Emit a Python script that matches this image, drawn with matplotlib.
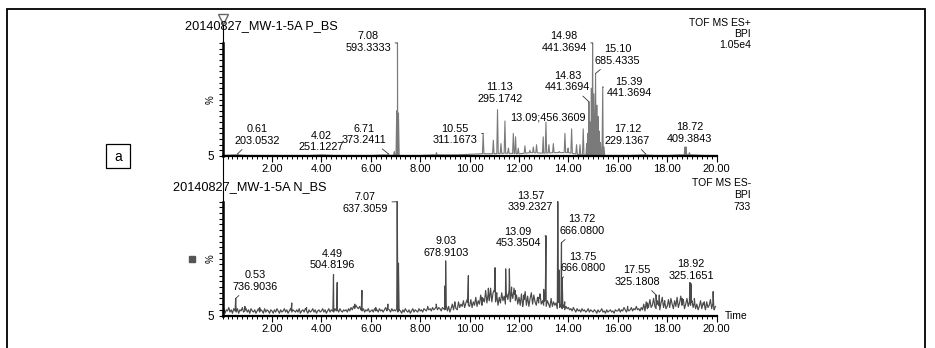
import numpy as np
import matplotlib
matplotlib.use("Agg")
from matplotlib import pyplot as plt
from matplotlib.patches import Rectangle
from matplotlib.lines import Line2D
from matplotlib.ticker import MultipleLocator, FixedLocator, FixedFormatter

plt.rcParams['font.family'] = ['Liberation Sans', 'DejaVu Sans']

# ---- data ----
titles = ['20140827_MW-1-5A P_BS', '20140827_MW-1-5A N_BS']
modes = [['TOF MS ES+', 'BPI', '1.05e4'], ['TOF MS ES-', 'BPI', '733']]
x_ticks = [2, 4, 6, 8, 10, 12, 14, 16, 18, 20]
y_tick_label = '5'

# positive mode: baseline every 0.5 min, then peaks (time, %)
top_base_t = list(np.arange(0, 20.01, 0.5))
top_base = [0.5, 1, 0.5, 0.5, 0.5, 0.5, 0.5, 0.5, 1, 0.5, 0.5, 0.5, 0.5, 1, 0.5, 0.5,
            0.5, 1, 1, 1, 1.5, 2, 2, 2.5, 2, 3, 2.5, 3, 3, 1, 0.5, 0.5, 0.5, 0.5,
            1, 0.5, 0.5, 1, 1, 0.5, 0.5]
top_pk_t = [0.61, 4.02, 6.71, 6.95, 7.05, 7.08, 7.12, 8.66, 10.55, 10.96, 11.13, 11.27,
            11.43, 11.57, 11.77, 11.86, 11.97, 12.24, 12.44, 12.58, 12.71, 12.98, 13.09,
            13.21, 13.39, 13.63, 13.86, 13.99, 14.13, 14.33, 14.47, 14.60, 14.74, 14.78,
            14.83, 14.88, 14.93, 14.98, 15.03, 15.10, 15.15, 15.20, 15.25, 15.30, 15.39,
            15.44, 17.12, 18.72, 18.76, 18.90]
top_pk_h = [2, 1, 2, 4, 40, 100, 38, 3, 20, 14, 41, 11,
            31, 7, 20, 17, 7, 9, 5, 8, 10, 17, 30,
            10, 11, 4, 20, 7, 24, 10, 10, 24, 11, 20,
            48, 30, 60, 100, 55, 73, 45, 35, 22, 12, 61,
            8, 2, 8, 8, 3]

# negative mode: noisy baseline every 0.05 min (one row per minute), then peaks (time, %)
bot_base = [3, 6, 2, 5, 4, 7, 3, 5, 2, 6, 4, 3, 6, 2, 5, 4, 7, 3, 4, 6,
            3, 5, 2, 6, 4, 3, 5, 2, 4, 6, 3, 5, 4, 2, 6, 3, 5, 4, 2, 5,
            4, 2, 5, 3, 6, 4, 2, 5, 3, 4, 6, 3, 5, 2, 4, 6, 3, 5, 4, 3,
            5, 3, 6, 2, 4, 5, 3, 6, 4, 2, 5, 3, 4, 6, 3, 5, 2, 4, 5, 3,
            4, 6, 3, 5, 2, 4, 6, 3, 5, 4, 3, 6, 4, 5, 3, 6, 4, 3, 5, 4,
            5, 3, 6, 4, 7, 5, 8, 6, 9, 7, 6, 8, 5, 4, 6, 3, 5, 4, 6, 3,
            4, 5, 3, 6, 4, 5, 3, 6, 4, 5, 3, 5, 7, 4, 6, 5, 3, 6, 4, 5,
            4, 6, 3, 5, 4, 2, 5, 3, 6, 4, 3, 5, 2, 4, 6, 3, 5, 4, 3, 6,
            4, 5, 3, 6, 5, 4, 7, 5, 6, 4, 7, 5, 6, 8, 5, 7, 6, 4, 7, 6,
            5, 9, 4, 8, 3, 6, 10, 5, 11, 6, 5, 12, 7, 10, 8, 13, 7, 11, 14, 9,
            8, 14, 7, 12, 9, 16, 8, 13, 10, 18, 9, 15, 12, 22, 11, 19, 13, 24, 12, 20,
            22, 12, 18, 9, 16, 11, 20, 13, 17, 10, 19, 14, 23, 12, 21, 15, 24, 13, 18, 10,
            16, 9, 19, 8, 14, 21, 9, 17, 8, 15, 20, 10, 18, 12, 9, 16, 11, 19, 10, 13,
            9, 16, 8, 13, 10, 7, 15, 8, 12, 9, 11, 6, 12, 7, 10, 6, 9, 5, 8, 6,
            7, 5, 6, 4, 7, 5, 3, 6, 4, 5, 3, 6, 4, 5, 3, 4, 6, 3, 5, 4,
            3, 5, 4, 2, 5, 3, 4, 6, 3, 4, 2, 5, 3, 4, 5, 3, 4, 2, 5, 4,
            4, 6, 3, 5, 4, 7, 5, 3, 6, 4, 5, 7, 4, 6, 5, 8, 5, 6, 4, 7,
            5, 10, 4, 12, 6, 8, 14, 7, 9, 15, 8, 6, 13, 9, 5, 11, 16, 7, 12, 6,
            8, 14, 7, 15, 10, 6, 13, 8, 16, 7, 11, 17, 9, 14, 6, 10, 15, 8, 12, 9,
            13, 7, 12, 6, 10, 5, 8, 13, 6, 11, 9, 5, 12, 7, 9, 14, 6, 11, 5, 8]
bot_base_t = list(np.arange(len(bot_base)) * 0.05)
bot_pk_t = [0.53, 0.9, 1.5, 2.8, 3.4, 4.49, 4.64, 5.35, 5.64, 6.2, 6.69, 7.07, 7.12,
            8.3, 8.65, 9.0, 9.03, 9.4, 9.95, 10.5, 10.76, 11.03, 11.1, 11.46, 11.61,
            11.7, 11.85, 12.2, 12.5, 12.8, 13.0, 13.09, 13.3, 13.57, 13.62, 13.72,
            13.75, 13.85, 16.4, 17.2, 17.55, 17.68, 17.9, 18.3, 18.6, 18.92, 18.96,
            19.1, 19.5, 19.86]
bot_pk_h = [15, 8, 7, 11, 7, 36, 29, 10, 22, 7, 10, 100, 46,
            8, 10, 26, 48, 12, 35, 16, 24, 42, 20, 41, 41,
            25, 22, 18, 17, 16, 23, 70, 14, 100, 40, 64,
            33, 12, 8, 11, 18, 18, 13, 13, 15, 29, 28,
            15, 12, 21]

# peak labels
top_lab_t = [0.61, 4.02, 6.71, 7.08, 10.55, 11.13, 13.09, 14.83, 14.98, 15.10, 15.39, 17.12, 18.72]
top_lab_txt = ['0.61\n203.0532', '4.02\n251.1227', '6.71\n373.2411', '7.08\n593.3333',
               '10.55\n311.1673', '11.13\n295.1742', '13.09;456.3609', '14.83\n441.3694',
               '14.98\n441.3694', '15.10\n685.4335', '15.39\n441.3694', '17.12\n229.1367',
               '18.72\n409.3843']
bot_lab_t = [0.53, 4.49, 7.07, 9.03, 13.09, 13.57, 13.72, 13.75, 17.55, 18.92]
bot_lab_txt = ['0.53\n736.9036', '4.49\n504.8196', '7.07\n637.3059', '9.03\n678.9103',
               '13.09\n453.3504', '13.57\n339.2327', '13.72\n666.0800', '13.75\n666.0800',
               '17.55\n325.1808', '18.92\n325.1651']

# ---- layout (pixels of the 935x348 reference) ----
W, H = 935, 348


def fx(px):
    return px / W


def fy(py):
    return 1 - py / H


# label centres (time, %) and whether a leader line is drawn
top_lab_pos = [(1.39, 18.6, 1), (3.99, 12.8, 0), (5.72, 19.0, 1), (5.89, 100.9, 1),
               (9.41, 19.0, 1), (11.23, 55.8, 0), (13.19, 34.5, 0), (13.96, 65.9, 1),
               (13.82, 100.9, 1), (15.99, 89.4, 1), (16.45, 60.6, 1), (16.39, 18.6, 1),
               (18.92, 20.4, 0)]
bot_lab_pos = [(1.31, 30.3, 1), (4.45, 49.2, 0), (5.77, 98.9, 1), (9.04, 60.2, 0),
               (11.96, 68.5, 1), (12.47, 100.2, 1), (14.55, 79.5, 1), (14.59, 46.6, 1),
               (16.78, 34.7, 1), (18.96, 40.0, 0)]

LAB_FS = 7.8


def trace(base_t, base_y, pk_t, pk_h, hw=0.03):
    t = list(base_t)
    y = list(base_y)
    for p, h in zip(pk_t, pk_h):
        b = np.interp(p, base_t, base_y)
        t += [p - hw, p, p + hw]
        y += [np.interp(p - hw, base_t, base_y), max(h, b), np.interp(p + hw, base_t, base_y)]
    o = np.argsort(t, kind='stable')
    return np.array(t)[o], np.array(y)[o]


def style_axis(ax):
    ax.set_xlim(0, 20)
    ax.set_ylim(0, 100)
    for s in ['top', 'right']:
        ax.spines[s].set_visible(False)
    ax.spines['left'].set_linewidth(1.8)
    ax.spines['bottom'].set_linewidth(1.6)
    ax.xaxis.set_major_locator(FixedLocator(x_ticks))
    ax.xaxis.set_major_formatter(FixedFormatter(['%.2f' % v for v in x_ticks]))
    ax.xaxis.set_minor_locator(MultipleLocator(0.2))
    ax.yaxis.set_major_locator(FixedLocator([0]))
    ax.yaxis.set_major_formatter(FixedFormatter([y_tick_label]))
    ax.yaxis.set_minor_locator(MultipleLocator(5))
    ax.tick_params(axis='x', which='major', length=4, width=0.8, pad=2, labelsize=8)
    ax.tick_params(axis='x', which='minor', length=2.5, width=0.7)
    ax.tick_params(axis='y', which='major', length=3, width=0.8, pad=3, labelsize=8.5)
    ax.tick_params(axis='y', which='minor', length=3, width=0.8)
    ax.patch.set_alpha(0)


def label_peaks(ax, lab_t, lab_txt, pos, pk_t, pk_h):
    for t, txt, (tx, ty, lead) in zip(lab_t, lab_txt, pos):
        h = pk_h[int(np.argmin(np.abs(np.array(pk_t) - t)))]
        if lead:
            ax.annotate(txt, xy=(t, h), xytext=(tx, ty), ha='center', va='center',
                        fontsize=LAB_FS, linespacing=1.2, annotation_clip=False,
                        arrowprops=dict(arrowstyle='-', lw=0.6, color='#333333',
                                        shrinkA=1, shrinkB=0))
        else:
            ax.text(tx, ty, txt, ha='center', va='center', fontsize=LAB_FS, linespacing=1.2)


fig = plt.figure(figsize=(9.35, 3.48), dpi=100)

ax1 = fig.add_axes([fx(222.6), fy(156), fx(716.6) - fx(222.6), fy(43) - fy(156)])
ax2 = fig.add_axes([fx(222.6), fy(315.5), fx(716.6) - fx(222.6), fy(201.7) - fy(315.5)])

t1, y1 = trace(top_base_t, top_base, top_pk_t, top_pk_h)
ax1.plot(t1, y1, color='#7a7a7a', lw=0.8, clip_on=False)
t2, y2 = trace(bot_base_t, bot_base, bot_pk_t, bot_pk_h, hw=0.025)
ax2.plot(t2, y2, color='#4a4a4a', lw=0.85, clip_on=False)

for ax in (ax1, ax2):
    style_axis(ax)

label_peaks(ax1, top_lab_t, top_lab_txt, top_lab_pos, top_pk_t, top_pk_h)
label_peaks(ax2, bot_lab_t, bot_lab_txt, bot_lab_pos, bot_pk_t, bot_pk_h)

# titles and mode text
fig.text(fx(261.5), fy(26), titles[0], ha='center', va='center', fontsize=9.2)
fig.text(fx(249.5), fy(187), titles[1], ha='center', va='center', fontsize=9.2)
for py, s in zip([23.5, 34, 44.5], modes[0]):
    fig.text(fx(751), fy(py), s, ha='right', va='center', fontsize=7.5)
for py, s in zip([183, 195, 207], modes[1]):
    fig.text(fx(751), fy(py), s, ha='right', va='center', fontsize=7.5)
fig.text(fx(725), fy(316), 'Time', ha='left', va='center', fontsize=7.5)

# % signs, thin connecting axis line, triangle, square
for py in (100, 259):
    fig.text(fx(211), fy(py), '%', rotation=90, ha='center', va='center', fontsize=7)
fig.add_artist(Line2D([fx(222.6), fx(222.6)], [fy(17), fy(316)], lw=0.8, color='black'))
fig.add_artist(Line2D([fx(222.6)], [fy(19)], marker='v', markersize=7,
                      markerfacecolor='white', markeredgecolor='#666666', lw=0))
fig.add_artist(Line2D([fx(192)], [fy(259)], marker='s', markersize=4.5,
                      color='#555555', lw=0))

# outer frame and "a" box
fig.add_artist(Rectangle((fx(7), -0.2), fx(925) - fx(7), fy(9) + 0.2, fill=False,
                         lw=1.3, edgecolor='black', transform=fig.transFigure))
fig.add_artist(Rectangle((fx(106), fy(168)), fx(130) - fx(106), fy(144) - fy(168),
                         fill=False, lw=0.9, edgecolor='black', transform=fig.transFigure))
fig.text(fx(118), fy(157), 'a', ha='center', va='center', fontsize=10)

fig.savefig('out.png', dpi=100)
